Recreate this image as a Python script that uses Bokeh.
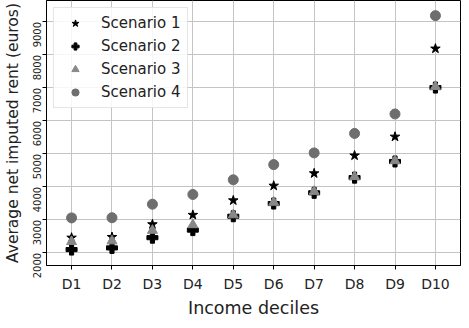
import math
from bokeh.plotting import figure
from bokeh.models import FactorRange, Range1d, FixedTicker, Legend, LegendItem
from bokeh.embed import file_html
from bokeh.resources import INLINE

deciles = ["D1", "D2", "D3", "D4", "D5", "D6", "D7", "D8", "D9", "D10"]
scenario_1 = [2460, 2480, 2865, 3150, 3590, 4035, 4410, 4950, 5520, 8190]
scenario_2 = [2100, 2150, 2460, 2690, 3110, 3495, 3820, 4280, 4770, 7010]
scenario_3 = [2340, 2360, 2680, 2850, 3150, 3530, 3860, 4310, 4790, 7040]
scenario_4 = [3060, 3065, 3475, 3770, 4215, 4675, 5030, 5620, 6210, 9190]
y_ticks = [2000, 3000, 4000, 5000, 6000, 7000, 8000, 9000]

FONT = "DejaVu Sans"

p = figure(width=461, height=320, output_backend="svg", toolbar_location=None,
           x_range=FactorRange(factors=deciles, range_padding=0.12,
                               range_padding_units="absolute"),
           y_range=Range1d(1617, 9649),
           min_border_left=39, min_border_right=1, min_border_top=0,
           min_border_bottom=50)

p.outline_line_color = "black"
p.outline_line_width = 1
p.background_fill_color = "white"
p.border_fill_color = "white"

p.xgrid.grid_line_color = "#c4c4c4"
p.ygrid.grid_line_color = "#c4c4c4"
p.xgrid.grid_line_width = 1
p.ygrid.grid_line_width = 1

p.yaxis.ticker = FixedTicker(ticks=y_ticks)
p.yaxis.major_label_orientation = math.pi / 2

for ax in (p.xaxis[0], p.yaxis[0]):
    ax.axis_line_color = "black"
    ax.major_tick_line_color = "black"
    ax.major_tick_out = 4
    ax.major_tick_in = 0
    ax.minor_tick_line_color = None
    ax.major_label_text_font = FONT
    ax.axis_label_text_font = FONT
    ax.axis_label_text_font_style = "normal"
    ax.axis_label_text_color = "#222222"
    ax.major_label_text_color = "#222222"

p.xaxis.major_label_text_font_size = "14px"
p.yaxis.major_label_text_font_size = "10px"
p.xaxis.axis_label = "Income deciles"
p.yaxis.axis_label = "Average net imputed rent (euros)"
p.xaxis.axis_label_text_font_size = "17.5px"
p.yaxis.axis_label_text_font_size = "15.5px"
p.xaxis.major_label_standoff = 6
p.yaxis.major_label_standoff = 5
p.xaxis.axis_label_standoff = 3
p.yaxis.axis_label_standoff = 5

r1 = p.scatter(deciles, scenario_1, marker="star", size=10, color="black")
r2 = p.scatter(deciles, scenario_2, marker="plus", size=11, color="black")
r3 = p.scatter(deciles, scenario_3, marker="triangle", size=10, color="#888888")
r4 = p.scatter(deciles, scenario_4, marker="circle", size=10, color="#6e6e6e")

legend = Legend(items=[
    LegendItem(label="Scenario 1", renderers=[r1]),
    LegendItem(label="Scenario 2", renderers=[r2]),
    LegendItem(label="Scenario 3", renderers=[r3]),
    LegendItem(label="Scenario 4", renderers=[r4]),
], location="top_left")
legend.label_text_font = FONT
legend.label_text_font_size = "15px"
legend.label_text_color = "#222222"
legend.border_line_color = "#cccccc"
legend.border_line_width = 1
legend.background_fill_alpha = 0.85
legend.glyph_width = 30
legend.glyph_height = 18
legend.label_height = 18
legend.label_standoff = 11
legend.spacing = 5
legend.padding = 6
legend.margin = 7
p.add_layout(legend)

open("out.html", "w").write(file_html(p, INLINE))
